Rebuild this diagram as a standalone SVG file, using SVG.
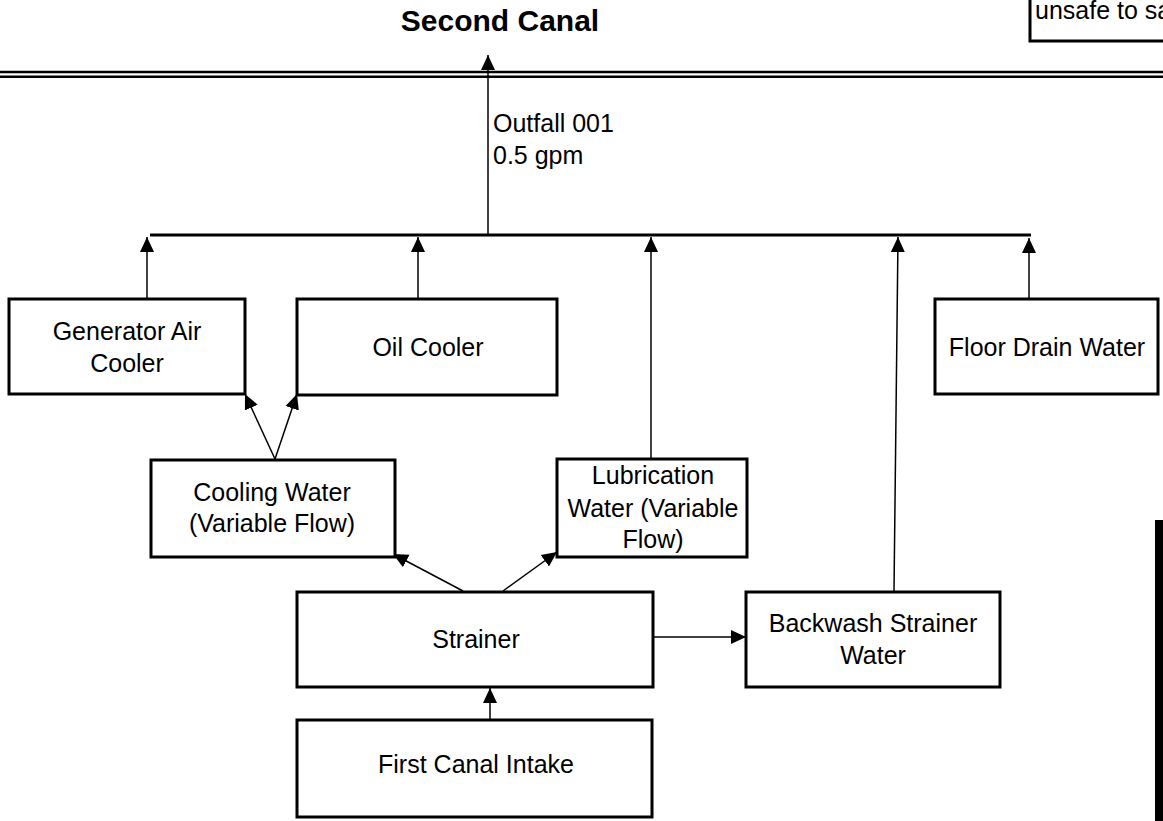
<svg xmlns="http://www.w3.org/2000/svg" width="1163" height="821" viewBox="0 0 1163 821">
<style>
.box{fill:#fff;stroke:#000;stroke-width:3}
.t{font-family:"Liberation Sans",Arial,sans-serif;font-size:25px;fill:#000}
.c{text-anchor:middle}
.ln{stroke:#000;stroke-width:1.5;fill:none}
</style>
<defs>
<marker id="ah" markerUnits="userSpaceOnUse" markerWidth="16" markerHeight="16" refX="15" refY="7" orient="auto" viewBox="0 0 16 14">
<path d="M0,0 L15,7 L0,14 z" fill="#000"/>
</marker>
</defs>
<rect width="1163" height="821" fill="#fff"/>
<text class="t c" x="500" y="31" style="font-weight:bold;font-size:30px">Second Canal</text>
<g id="note">
<rect class="box" x="1030" y="-3" width="140" height="44"/>
<text class="t" x="1035" y="19">unsafe to sa</text>
</g>
<g id="canal">
<line x1="0" y1="72" x2="1163" y2="72" stroke="#000" stroke-width="2.6"/>
<line x1="0" y1="76.7" x2="1163" y2="76.7" stroke="#000" stroke-width="2.6"/>
</g>
<rect id="bar" x="1155" y="520" width="8" height="301" fill="#000"/>
<g id="connectors">
<line x1="150" y1="235" x2="1031" y2="235" stroke="#000" stroke-width="3"/>
<line class="ln" x1="488" y1="235" x2="488" y2="55" marker-end="url(#ah)"/>
<line class="ln" x1="147" y1="298" x2="147" y2="237" marker-end="url(#ah)"/>
<line class="ln" x1="418" y1="298" x2="418" y2="237" marker-end="url(#ah)"/>
<line class="ln" x1="651" y1="458" x2="651" y2="237" marker-end="url(#ah)"/>
<line class="ln" x1="894" y1="591" x2="898" y2="237" marker-end="url(#ah)"/>
<line class="ln" x1="1029" y1="298" x2="1029" y2="238" marker-end="url(#ah)"/>
<line class="ln" x1="275" y1="459" x2="245" y2="394" marker-end="url(#ah)"/>
<line class="ln" x1="275" y1="459" x2="297" y2="394" marker-end="url(#ah)"/>
<line class="ln" x1="463" y1="591" x2="393" y2="554" marker-end="url(#ah)"/>
<line class="ln" x1="503" y1="591" x2="557" y2="552" marker-end="url(#ah)"/>
<line class="ln" x1="653" y1="637" x2="746" y2="637" marker-end="url(#ah)"/>
<line class="ln" x1="490" y1="719" x2="490" y2="688" marker-end="url(#ah)"/>
<text class="t" x="493" y="132">Outfall 001</text>
<text class="t" x="493" y="164">0.5 gpm</text>
</g>
<g id="gen">
<rect class="box" x="9" y="299" width="236" height="95"/>
<text class="t c" x="127" y="340">Generator Air</text>
<text class="t c" x="127" y="372">Cooler</text>
</g>
<g id="oil">
<rect class="box" x="297" y="299" width="260" height="96"/>
<text class="t c" x="428" y="356">Oil Cooler</text>
</g>
<g id="floor">
<rect class="box" x="935" y="299" width="223" height="95"/>
<text class="t c" x="1047" y="356">Floor Drain Water</text>
</g>
<g id="cooling">
<rect class="box" x="151" y="460" width="244" height="97"/>
<text class="t c" x="272" y="501">Cooling Water</text>
<text class="t c" x="272" y="532">(Variable Flow)</text>
</g>
<g id="lub">
<rect class="box" x="557" y="459" width="190" height="98"/>
<text class="t c" x="653" y="484">Lubrication</text>
<text class="t c" x="653" y="517">Water (Variable</text>
<text class="t c" x="653" y="548">Flow)</text>
</g>
<g id="strainer">
<rect class="box" x="297" y="592" width="356" height="95"/>
<text class="t c" x="476" y="648">Strainer</text>
</g>
<g id="backwash">
<rect class="box" x="746" y="592" width="254" height="95"/>
<text class="t c" x="873" y="632">Backwash Strainer</text>
<text class="t c" x="873" y="664">Water</text>
</g>
<g id="intake">
<rect class="box" x="297" y="720" width="355" height="97"/>
<text class="t c" x="476" y="773">First Canal Intake</text>
</g>
</svg>
